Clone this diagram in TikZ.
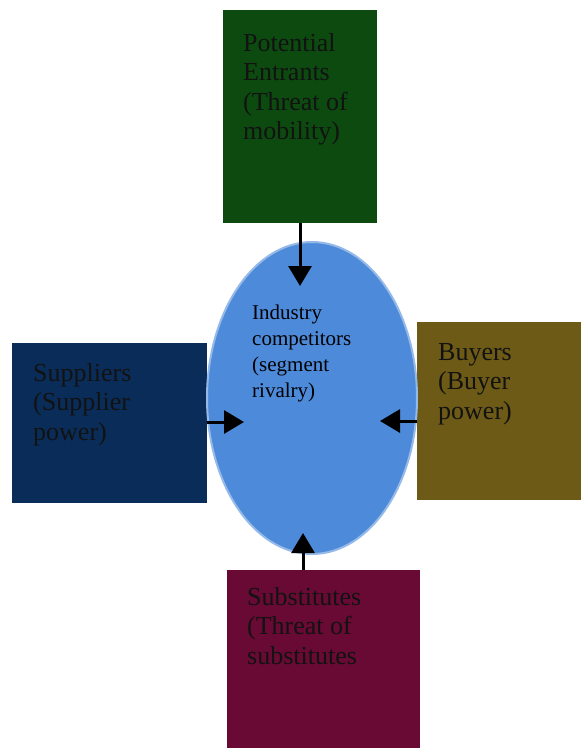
\documentclass[tikz,border=0pt]{standalone}
\usepackage{fontspec}
\setmainfont{Liberation Serif}
\usetikzlibrary{arrows.meta,shapes.geometric}

\definecolor{entrantgreen}{RGB}{12,74,16}
\definecolor{suppliernavy}{RGB}{10,44,88}
\definecolor{buyerolive}{RGB}{108,90,22}
\definecolor{substmaroon}{RGB}{104,10,52}
\definecolor{rivalblue}{RGB}{78,138,218}
\definecolor{rivalrim}{RGB}{150,186,232}
\definecolor{boxtext}{RGB}{18,18,18}

\begin{document}
\begin{tikzpicture}[x=1pt,y=-1pt,
  forcebox/.style={rectangle, draw=none, inner sep=0pt},
  boxlabel/.style={anchor=north west, inner sep=0pt, align=left, text=boxtext,
    font=\fontsize{26}{29.5}\selectfont},
  corelabel/.style={anchor=north west, inner sep=0pt, align=left, text=black,
    font=\fontsize{21}{26}\selectfont},
  push/.style={line width=3pt, draw=black, -{Triangle[length=20pt,width=23pt]}}]

\useasboundingbox (0,0) rectangle (582,748);
\fill[white] (0,0) rectangle (582,748);

% the five forces
\node[forcebox, fill=entrantgreen, minimum width=154pt, minimum height=213pt] (entrants) at (300,116.5) {};
\node[forcebox, fill=suppliernavy, minimum width=195pt, minimum height=160pt] (suppliers) at (109.5,423) {};
\node[forcebox, fill=buyerolive, minimum width=164pt, minimum height=178pt] (buyers) at (499,411) {};
\node[forcebox, fill=substmaroon, minimum width=193pt, minimum height=180pt] (substitutes) at (323.5,660) {};

% industry rivalry in the middle
\node[ellipse, fill=rivalblue, draw=rivalrim, line width=2pt, inner sep=0pt,
      minimum width=210pt, minimum height=312pt] (rivalry) at (312,398) {};

% labels
\node[boxlabel] (entrantsText) at (243,33) {Potential\\Entrants\\(Threat of\\mobility)};
\node[boxlabel] (suppliersText) at (33,363) {Suppliers\\(Supplier\\power)};
\node[boxlabel] (buyersText) at (438,343) {Buyers\\(Buyer\\power)};
\node[boxlabel] (substitutesText) at (247,587) {Substitutes\\(Threat of\\substitutes};
\node[corelabel] (rivalryText) at (252,305) {Industry\\competitors\\(segment\\rivalry)};

% arrow tips inside the ellipse
\coordinate (tipN) at (300,286);
\coordinate (tipW) at (244,422);
\coordinate (tipE) at (380,421);
\coordinate (tipS) at (303,533);

% arrows
\draw[push] (entrants.south) -- (tipN);
\draw[push] (suppliers.east |- tipW) -- (tipW);
\draw[push] (buyers.west |- tipE) -- (tipE);
\draw[push] (substitutes.north -| tipS) -- (tipS);
\end{tikzpicture}
\end{document}
